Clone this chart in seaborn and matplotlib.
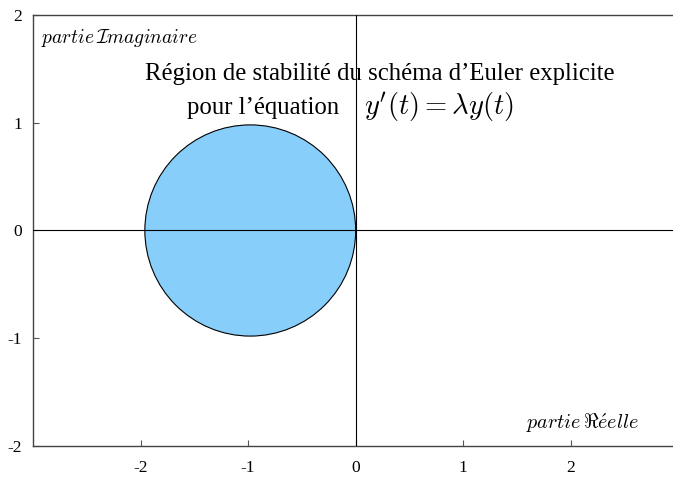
import numpy as np
import seaborn as sns
import matplotlib.pyplot as plt
from matplotlib.patches import Circle

# stability region of explicit Euler: |1 + z| <= 1
centre = (-0.98, 0.0)
rayon = 0.98
x_ticks = [-2, -1, 0, 1, 2]
y_ticks = [-2, -1, 0, 1, 2]
x_lim = (-3.0, 2.95)
y_lim = (-2.0, 2.0)

sns.set_style("ticks")
plt.rcParams['font.family'] = ['Liberation Serif', 'DejaVu Serif']
plt.rcParams['mathtext.fontset'] = 'cm'
plt.rcParams['axes.unicode_minus'] = False
plt.rcParams['text.color'] = 'black'
plt.rcParams['xtick.labelcolor'] = 'black'
plt.rcParams['ytick.labelcolor'] = 'black'

fig = plt.figure(figsize=(6.73, 4.83), dpi=100)
ax = fig.add_axes([0.049, 0.0766, 0.951, 0.8924])

ax.add_patch(Circle(centre, rayon, facecolor='#87CEFA', edgecolor='black', linewidth=0.8, zorder=2))
ax.axhline(0, color='black', linewidth=0.8, zorder=3)
ax.axvline(0, color='black', linewidth=0.8, zorder=3)

ax.set_xlim(*x_lim)
ax.set_ylim(*y_lim)
ax.set_xticks(x_ticks)
ax.set_yticks(y_ticks)
ax.set_xticklabels([str(t) for t in x_ticks])
ax.set_yticklabels([str(t) for t in y_ticks])
ax.tick_params(direction='in', length=4, width=0.8, labelsize=12.5, color='#555555', pad=10)
ax.tick_params(axis='y', pad=8)

ax.spines['right'].set_visible(False)
for s in ['left', 'bottom', 'top']:
    ax.spines[s].set_color('#444444')
    ax.spines[s].set_linewidth(1.0)

ax.text(-2.93, 1.79, r'$partie\,\mathcal{I}maginaire$', fontsize=14, ha='left', va='center')
ax.text(2.11, -1.79, r'$partie\,\Re\acute{e}elle$', fontsize=14.5, ha='center', va='center')

ax.text(0.22, 1.45, "Région de stabilité du schéma d’Euler explicite", fontsize=17.8,
        ha='center', va='center')
ax.text(-0.15, 1.14, "pour l’équation", fontsize=17.8, ha='right', va='center')
ax.text(0.08, 1.14, r"$y'(t) = \lambda y(t)$", fontsize=20.5, ha='left', va='center')

fig.savefig('out.png', dpi=100)
